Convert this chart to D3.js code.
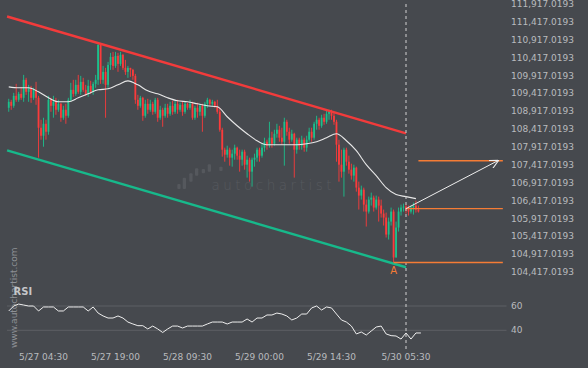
<!DOCTYPE html>
<html>
<head>
<meta charset="utf-8">
<script src="https://cdn.jsdelivr.net/npm/d3@7"></script>
<style>
  html, body { margin: 0; padding: 0; background: #46494e; }
  svg { display: block; font-family: "DejaVu Sans", sans-serif; }
</style>
</head>
<body>
<div id="chart"></div>
<script>
// 30 minute candles, first bar time
var startTime = "2025-05-26 21:30";
var firstOpen = 109013;

var closes = [109180,109068,109347,109236,109403,109292,109795,109459,109572,109292,109515,109292,
  108454,108230,108565,108342,109236,109068,109180,108957,109124,108734,108957,108789,109236,109515,
  109403,109655,109459,109739,109515,109403,109627,109459,109683,109795,110772,109795,110018,109655,
  110213,110437,110185,110465,110241,110493,110130,110018,110130,110074,109906,109236,109068,109292,
  108789,109124,108957,109124,108901,109236,108734,108957,108789,109013,108845,109068,108901,109124,
  108957,109096,108901,109124,109013,109124,108734,109013,108901,109068,108789,109124,109236,109124,
  109180,109068,108901,108398,107840,107700,107840,107617,107728,107896,107672,107560,107784,107420,
  107560,107225,107560,107617,107840,107672,107896,108063,107952,108175,108007,108286,108398,108175,
  108063,108621,108342,108119,108286,107840,108119,107952,108119,107896,108119,108342,108175,108565,
  108677,108509,108734,108621,108845,108901,108789,108621,107980,107420,107225,107840,107504,107281,
  107114,107337,106778,106555,106722,106303,106108,106443,106499,106220,106443,106276,106052,105940,
  105465,105828,106108,104823,105661,106108,106220,106248,106164,106108,106220,106276,106164,106108];

var highs = [109264,109236,109431,109683,109459,109599,109934,109851,109655,109627,109572,109739,
  109347,108677,108734,108677,109347,109292,109347,109292,109236,109152,109068,109124,109292,109711,
  109795,109795,109934,109906,109851,109655,109795,109767,109739,109934,110828,110828,110185,110130,
  110297,110549,110577,110577,110549,110577,110521,110353,110185,110130,110102,109962,109375,109347,
  109319,109236,109264,109236,109180,109292,109292,109068,109013,109124,109124,109180,109208,109208,
  109236,109152,109180,109180,109152,109236,109180,109068,109152,109124,109124,109180,109292,109264,
  109236,109208,109236,109013,108454,107896,107952,107896,107840,107980,107924,107840,107840,107840,
  107672,107617,107617,107728,107896,107896,108007,108175,108119,108621,108342,108398,108565,108509,
  108454,108734,108677,108454,108398,108314,108175,108175,108230,108175,108230,108454,108454,108621,
  108789,108734,108817,108845,108957,108957,108957,108873,108677,108119,107840,107896,107896,107672,
  107448,107420,107365,106946,106834,106778,106443,106527,106639,106555,106555,106527,106443,106164,
  106080,105940,106220,106164,105828,106220,106303,106331,106303,106276,106276,106359,106415,106276];

var lows = [108901,108957,109013,109180,109180,109236,109180,109375,109180,109152,109236,109096,
  107617,108119,107923,108119,108258,108901,108734,108817,108901,108621,108677,108565,108734,109180,
  109319,109347,109403,109375,109459,109347,109319,109403,109375,109572,109655,109683,109683,108734,
  109572,110074,110074,110130,110018,110185,110074,109934,109851,109878,109795,109124,108957,109013,
  108649,108734,108845,108901,108817,108845,108621,108677,108481,108734,108734,108789,108817,108845,
  108845,108901,108789,108845,108957,108957,108677,108677,108734,108789,108342,108734,109013,109068,
  109068,109013,108845,108342,107645,107504,107617,107393,107365,107560,107560,107225,107393,107281,
  107058,106946,106806,107365,107504,107504,107617,107784,107840,107896,107896,107952,108175,108063,
  107980,107393,108230,108007,108063,107058,107728,107840,107840,107784,107784,108063,108063,108119,
  108398,108398,108454,108537,108565,108677,108677,108537,107504,106946,107058,106526,107393,107169,
  107002,106946,106666,106164,106443,106108,105689,106052,106276,106108,106164,105828,105940,105717,
  105382,105326,105717,104683,104823,105549,105996,106108,106052,105996,106052,106024,106080,106080];

// moving average, read every 4 bars (bar 0, 4, 8, ...)
var maEvery4 = [109599,109572,109572,109459,109292,109180,109180,109292,109403,109515,109543,109655,
  109767,109655,109487,109403,109292,109208,109180,109124,109068,109040,108762,108510,108286,108091,
  107980,107980,107980,107980,108007,108063,108175,108286,108091,107812,107420,107114,106778,106583,
  106527,106471];

// RSI, read every 2 bars (bar 0, 2, 4, ...)
var rsiEvery2 = [55.9,60.0,61.6,60.8,60.0,60.0,55.9,59.2,59.2,59.2,55.9,55.9,59.2,59.2,59.2,59.2,
  55.9,59.2,54.2,51.8,50.1,50.1,51.8,50.1,46.8,45.2,43.8,43.8,41.1,43.5,41.1,38.2,41.1,43.5,43.5,
  41.9,43.5,43.5,43.5,43.5,45.2,46.8,46.8,46.8,45.2,46.8,46.8,46.8,49.3,46.8,50.1,50.1,52.6,52.6,
  54.2,53.4,51.8,48.5,50.1,53.4,53.4,58.4,60.0,56.7,59.2,58.4,53.4,48.5,46.8,43.5,37.0,38.6,36.1,
  39.4,42.7,43.5,37.0,35.6,35.3,32.8,37.8,32.8,37.8,37.8];

var priceTicks = [104417.0193,104917.0193,105417.0193,105917.0193,106417.0193,106917.0193,
  107417.0193,107917.0193,108417.0193,108917.0193,109417.0193,109917.0193,110417.0193,110917.0193,
  111417.0193,111917.0193];
var timeTicks = ["2025-05-27 04:30","2025-05-27 19:00","2025-05-28 09:30",
  "2025-05-29 00:00","2025-05-29 14:30","2025-05-30 05:30"];
var rsiLevels = [60, 40];

// pattern: descending channel
var channelTimes = ["2025-05-26 21:10", "2025-05-30 05:30"];
var upperChannel = [111567, 108299];
var lowerChannel = [107823, 104550];
var nowTime = "2025-05-30 05:30";
var pointATime = "2025-05-30 03:00";
var supportLevel = 104683;
var resistanceLevel = 106190;
var targetLevel = 107532;
var levelEnd = "2025-05-31 01:00";
var targetStart = "2025-05-30 08:00";
var arrowEnd = "2025-05-31 00:00";

var svgWidth = 588, svgHeight = 368;
var bg = "#46494e", textColor = "#b9bbbe";
var upColor = "#1cc08c", downColor = "#fb3b3b";
var orange = "#f57c35";

var parseTime = d3.timeParse("%Y-%m-%d %H:%M");
var fmtTime = d3.timeFormat("%-m/%d %H:%M");
var fmtPrice = d3.format(",.4f");

var t0 = parseTime(startTime);
var bars = closes.map(function (c, i) {
  return {
    date: d3.timeMinute.offset(t0, 30 * i),
    open: i === 0 ? firstOpen : closes[i - 1],
    high: highs[i],
    low: lows[i],
    close: c
  };
});

var svg = d3.select("#chart").append("svg")
  .attr("width", svgWidth)
  .attr("height", svgHeight);

svg.append("rect").attr("width", svgWidth).attr("height", svgHeight).attr("fill", bg);

// scales
var x = d3.scaleTime()
  .domain([parseTime(timeTicks[0]), parseTime(timeTicks[5])])
  .range([43.5, 406]);
var y = d3.scaleLinear()
  .domain([priceTicks[0], priceTicks[priceTicks.length - 1]])
  .range([272, 4]);
var yRsi = d3.scaleLinear().domain([40, 60]).range([330.3, 306]);

// watermark
var logoBars = [[177.3,184,189],[182.7,177.7,189],[189.3,173.3,181.7],[195,168.3,175.7],
  [201.7,169,173.3],[207.7,164.3,171.7],[219.3,166.7,171]];
svg.append("g").selectAll("rect").data(logoBars).enter().append("rect")
  .attr("x", d => d[0]).attr("y", d => d[1])
  .attr("width", 3.3).attr("height", d => d[2] - d[1])
  .attr("rx", 1).attr("fill", "#55585d");
svg.append("text")
  .attr("x", 211.5).attr("y", 189.5)
  .attr("textLength", 120).attr("lengthAdjust", "spacing")
  .attr("font-size", "13.5px").attr("font-weight", 200)
  .attr("fill", "#56595e")
  .text("autochartist");

svg.append("text")
  .attr("transform", "translate(16.5,348) rotate(-90)")
  .attr("font-size", "9px")
  .attr("fill", "#8e9196")
  .text("www.autochartist.com");

// price axis labels
svg.append("g").selectAll("text").data(priceTicks).enter().append("text")
  .attr("x", 511).attr("y", d => y(d)).attr("dy", "0.35em")
  .attr("font-size", "9px").attr("fill", textColor)
  .text(d => fmtPrice(d));

// time axis labels
svg.append("g").selectAll("text").data(timeTicks).enter().append("text")
  .attr("x", d => x(parseTime(d))).attr("y", 359.5)
  .attr("text-anchor", "middle")
  .attr("font-size", "9px").attr("fill", textColor)
  .text(d => fmtTime(parseTime(d)));

// RSI panel
svg.append("g").selectAll("line").data(rsiLevels).enter().append("line")
  .attr("x1", 7).attr("x2", 506.5)
  .attr("y1", d => yRsi(d)).attr("y2", d => yRsi(d))
  .attr("stroke", "#5d6065").attr("stroke-width", 1);
svg.append("g").selectAll("text").data(rsiLevels).enter().append("text")
  .attr("x", 511).attr("y", d => yRsi(d)).attr("dy", "0.35em")
  .attr("font-size", "9px").attr("fill", textColor)
  .text(d => d);
svg.append("text")
  .attr("x", 13.5).attr("y", 294.5)
  .attr("font-size", "10px").attr("font-weight", "bold")
  .attr("fill", "#c4c6c9")
  .text("RSI");

var rsiLine = d3.line()
  .x((d, k) => x(d3.timeMinute.offset(t0, 60 * k)))
  .y(d => yRsi(d));
svg.append("path").datum(rsiEvery2)
  .attr("d", rsiLine)
  .attr("fill", "none").attr("stroke", "#eeeeee").attr("stroke-width", 1);

// candles
var candles = svg.append("g").selectAll("g").data(bars).enter().append("g")
  .attr("transform", d => `translate(${x(d.date)},0)`);
candles.append("line")
  .attr("y1", d => y(d.high)).attr("y2", d => y(d.low))
  .attr("stroke", d => d.close >= d.open ? upColor : downColor)
  .attr("stroke-width", 0.9);
candles.append("rect")
  .attr("x", -0.9).attr("width", 1.8)
  .attr("y", d => y(Math.max(d.open, d.close)))
  .attr("height", d => Math.max(1, Math.abs(y(d.open) - y(d.close))))
  .attr("fill", d => d.close >= d.open ? upColor : downColor);

// moving average
var maLine = d3.line()
  .x((d, k) => x(d3.timeMinute.offset(t0, 120 * k)))
  .y(d => y(d))
  .curve(d3.curveMonotoneX);
svg.append("path").datum(maEvery4)
  .attr("d", maLine)
  .attr("fill", "none").attr("stroke", "#e8e8e8").attr("stroke-width", 1.1);

// channel
var chX = channelTimes.map(parseTime);
svg.append("line")
  .attr("x1", x(chX[0])).attr("x2", x(chX[1]))
  .attr("y1", y(upperChannel[0])).attr("y2", y(upperChannel[1]))
  .attr("stroke", "#f23b3b").attr("stroke-width", 2.4);
svg.append("line")
  .attr("x1", x(chX[0])).attr("x2", x(chX[1]))
  .attr("y1", y(lowerChannel[0])).attr("y2", y(lowerChannel[1]))
  .attr("stroke", "#17b98b").attr("stroke-width", 2.4);

// current time marker
svg.append("line")
  .attr("x1", x(parseTime(nowTime))).attr("x2", x(parseTime(nowTime)))
  .attr("y1", 4).attr("y2", 350)
  .attr("stroke", "#d2d2d2").attr("stroke-width", 1)
  .attr("stroke-dasharray", "3,3");

// levels
var levels = [
  { from: pointATime, value: supportLevel },
  { from: nowTime, value: resistanceLevel },
  { from: targetStart, value: targetLevel }
];
svg.append("g").selectAll("line").data(levels).enter().append("line")
  .attr("x1", d => x(parseTime(d.from))).attr("x2", x(parseTime(levelEnd)))
  .attr("y1", d => y(d.value)).attr("y2", d => y(d.value))
  .attr("stroke", orange).attr("stroke-width", 1.4);

svg.append("text")
  .attr("x", x(parseTime(pointATime))).attr("y", 273.5)
  .attr("text-anchor", "middle")
  .attr("font-size", "10px").attr("fill", orange)
  .text("A");

// forecast arrow
svg.append("defs").append("marker")
  .attr("id", "arrow")
  .attr("viewBox", "0 0 10 10")
  .attr("refX", 9).attr("refY", 5)
  .attr("markerWidth", 9).attr("markerHeight", 9)
  .attr("markerUnits", "userSpaceOnUse")
  .attr("orient", "auto")
  .append("path")
  .attr("d", "M0,0 L10,5 L0,10")
  .attr("fill", "none").attr("stroke", "#eeeeee").attr("stroke-width", 1.2);

svg.append("line")
  .attr("x1", x(parseTime(nowTime))).attr("y1", y(resistanceLevel))
  .attr("x2", x(parseTime(arrowEnd))).attr("y2", y(targetLevel))
  .attr("stroke", "#eeeeee").attr("stroke-width", 1)
  .attr("marker-end", "url(#arrow)");
</script>
</body>
</html>
